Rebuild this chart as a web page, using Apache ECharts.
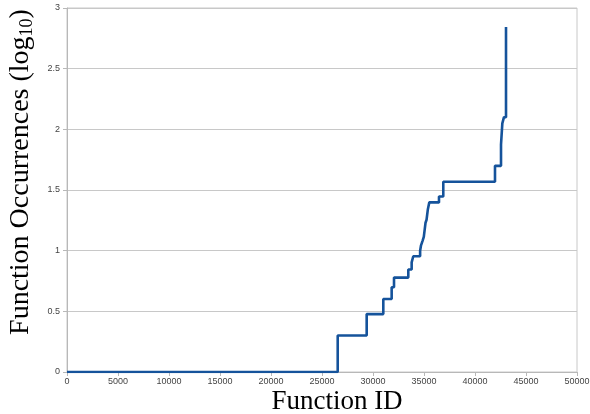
<!DOCTYPE html>
<html>
<head>
<meta charset="utf-8">
<script src="https://cdn.jsdelivr.net/npm/echarts@6/dist/echarts.min.js"></script>
<style>
html,body{margin:0;padding:0;background:#fff;}
#chart{width:590px;height:414px;}
</style>
</head>
<body>
<div id="chart"></div>
<script>
// Step points: function ID where the value changes, and the new log10 occurrence value
var functionIds = [0, 26540, 29380, 31010, 31830, 32060, 33460, 33790, 33950, 34620, 34700, 34850, 34980, 35070, 35150, 35250, 35380, 35520, 36470, 36890, 41960, 42550, 42680, 42840, 43040];
var logOccurrences = [0, 0.301, 0.477, 0.602, 0.699, 0.778, 0.845, 0.903, 0.954, 1.0, 1.041, 1.079, 1.114, 1.176, 1.23, 1.255, 1.342, 1.398, 1.447, 1.568, 1.699, 1.875, 2.049, 2.1, 2.843];
var xTicks = [0, 5000, 10000, 15000, 20000, 25000, 30000, 35000, 40000, 45000, 50000];
var yTicks = [0, 0.5, 1, 1.5, 2, 2.5, 3];
var xTitle = 'Function ID';
var yTitleMain = 'Function Occurrences (log';
var yTitleSub = '10';

var data = functionIds.map(function (id, i) { return [id, logOccurrences[i]]; });

var chart = echarts.init(document.getElementById('chart'), null, {renderer: 'canvas'});
chart.setOption({
  animation: false,
  backgroundColor: '#ffffff',
  grid: {left: 67, right: 13, top: 8, bottom: 42, containLabel: false, outerBoundsMode: 'none',
    show: true, borderColor: '#c8c8c8', borderWidth: 1, backgroundColor: 'transparent'},
  xAxis: {
    type: 'value',
    min: xTicks[0], max: xTicks[xTicks.length - 1], interval: 5000,
    axisLine: {show: true, lineStyle: {color: '#b8b8b8', width: 1}},
    axisTick: {show: true, length: 4, lineStyle: {color: '#b8b8b8'}},
    axisLabel: {fontFamily: 'Liberation Sans', fontSize: 9, color: '#444', margin: 5,
      formatter: function (v) { return String(v); }},
    splitLine: {show: false}
  },
  yAxis: {
    type: 'value',
    min: yTicks[0], max: yTicks[yTicks.length - 1], interval: 0.5,
    axisLine: {show: true, lineStyle: {color: '#b8b8b8', width: 1}},
    axisTick: {show: true, length: 4, lineStyle: {color: '#b8b8b8'}},
    axisLabel: {fontFamily: 'Liberation Sans', fontSize: 9, color: '#444', margin: 7,
      formatter: function (v) { return String(v); }},
    splitLine: {show: true, lineStyle: {color: '#c8c8c8', width: 1}}
  },
  graphic: [
    {
      type: 'text', x: 337, y: 402,
      style: {text: xTitle, font: '27px "Liberation Serif"', fill: '#000', align: 'center', verticalAlign: 'middle'}
    },
    {
      type: 'text', x: 21, y: 172, rotation: Math.PI / 2,
      style: {
        text: '{m|' + yTitleMain + '}{s|' + yTitleSub + '}{m|)}',
        fill: '#000', align: 'center', verticalAlign: 'middle',
        rich: {
          m: {fontFamily: 'Liberation Serif', fontSize: 28, fill: '#000', lineHeight: 32},
          s: {fontFamily: 'Liberation Serif', fontSize: 18, fill: '#000', padding: [13, 0, 0, 0], lineHeight: 32}
        }
      }
    }
  ],
  series: [{
    type: 'line',
    step: 'end',
    data: data,
    symbol: 'none',
    lineStyle: {color: '#15539b', width: 2.6},
    z: 3
  }]
});
</script>
</body>
</html>
